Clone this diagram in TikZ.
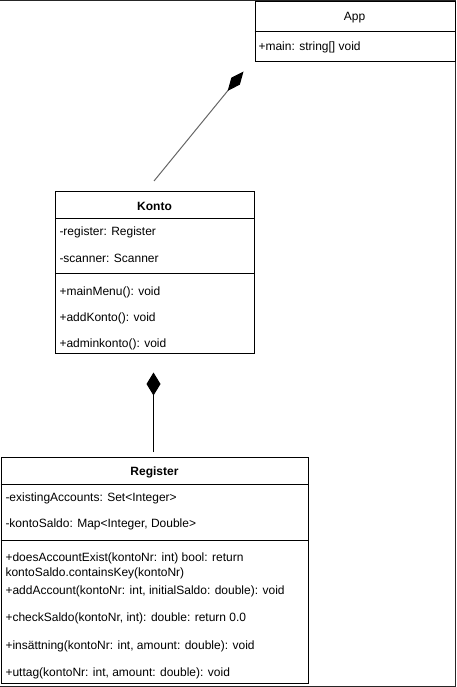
\documentclass[tikz,border=0pt]{standalone}
\usepackage{fontspec}
\setmainfont{Liberation Sans}
\usetikzlibrary{arrows.meta}
\usetikzlibrary{positioning}

\begin{document}
\begin{tikzpicture}[x=1pt,y=-1pt,line width=1pt,
  font=\fontsize{12}{15}\selectfont,
  classbox/.style={draw,anchor=north west,inner sep=0pt},
  member/.style={anchor=west,inner sep=0pt,yshift=-1.5pt},
  classname/.style={inner sep=0pt,yshift=-1.5pt}]
  \useasboundingbox (0,0) rectangle (456,687);
  \draw[black!85] (0,0.5) -- (455.5,0.5) -- (455.5,686.5) -- (0,686.5);

  \node[classbox,minimum width=200pt,minimum height=60pt] (app) at (254.5,1.5) {};
  \node[classname] (appname) at (354.5,16) {App};
  \draw (app.west |- 0,32) -- (app.east |- 0,32);
  \node[member] (appmain) at (258,45.5) {+main: string[] void};

  \node[classbox,minimum width=199pt,minimum height=162pt] (konto) at (55,191) {};
  \node[classname] (kontoname) at (154.5,204.5) {\textbf{Konto}};
  \draw (konto.west |- 0,218) -- (konto.east |- 0,218);
  \node[member] (kontoreg) at (59,230.5) {-register: Register};
  \node[member] (kontoscan) at (59,256.5) {-scanner: Scanner};
  \draw (konto.west |- 0,273) -- (konto.east |- 0,273);
  \node[member] (kontomenu) at (59,290.5) {+mainMenu(): void};
  \node[member] (kontoadd) at (59,316.5) {+addKonto(): void};
  \node[member] (kontoadmin) at (59,342.5) {+adminkonto(): void};

  \node[classbox,minimum width=307.5pt,minimum height=226pt] (register) at (0.5,457) {};
  \node[classname] (registername) at (154.5,471) {\textbf{Register}};
  \draw (register.west |- 0,484) -- (register.east |- 0,484);
  \node[member] (regaccounts) at (5,496.5) {-existingAccounts: Set<Integer>};
  \node[member] (regsaldo) at (5,523) {-kontoSaldo: Map<Integer, Double>};
  \draw (register.west |- 0,540) -- (register.east |- 0,540);
  \node[member,align=left] (regexist) at (5,564) {+doesAccountExist(kontoNr: int) bool: return\\kontoSaldo.containsKey(kontoNr)};
  \node[member] (regadd) at (5,590) {+addAccount(kontoNr: int, initialSaldo: double): void};
  \node[member] (regcheck) at (5,617) {+checkSaldo(kontoNr, int): double: return 0.0};
  \node[member] (regin) at (5,644.5) {+insättning(kontoNr: int, amount: double): void};
  \node[member] (regout) at (5,671.5) {+uttag(kontoNr: int, amount: double): void};

  \coordinate (kontotop) at (154,181);
  \coordinate (append) at (243.5,71.5);
  \coordinate (regtop) at (153.5,452);
  \coordinate (kontoend) at (153.5,372.5);
  \draw[black!60,-{Diamond[length=25pt,width=11pt,color=black]}] (kontotop) -- (append);
  \draw[-{Diamond[length=23pt,width=14pt]}] (regtop) -- (kontoend);
\end{tikzpicture}
\end{document}
